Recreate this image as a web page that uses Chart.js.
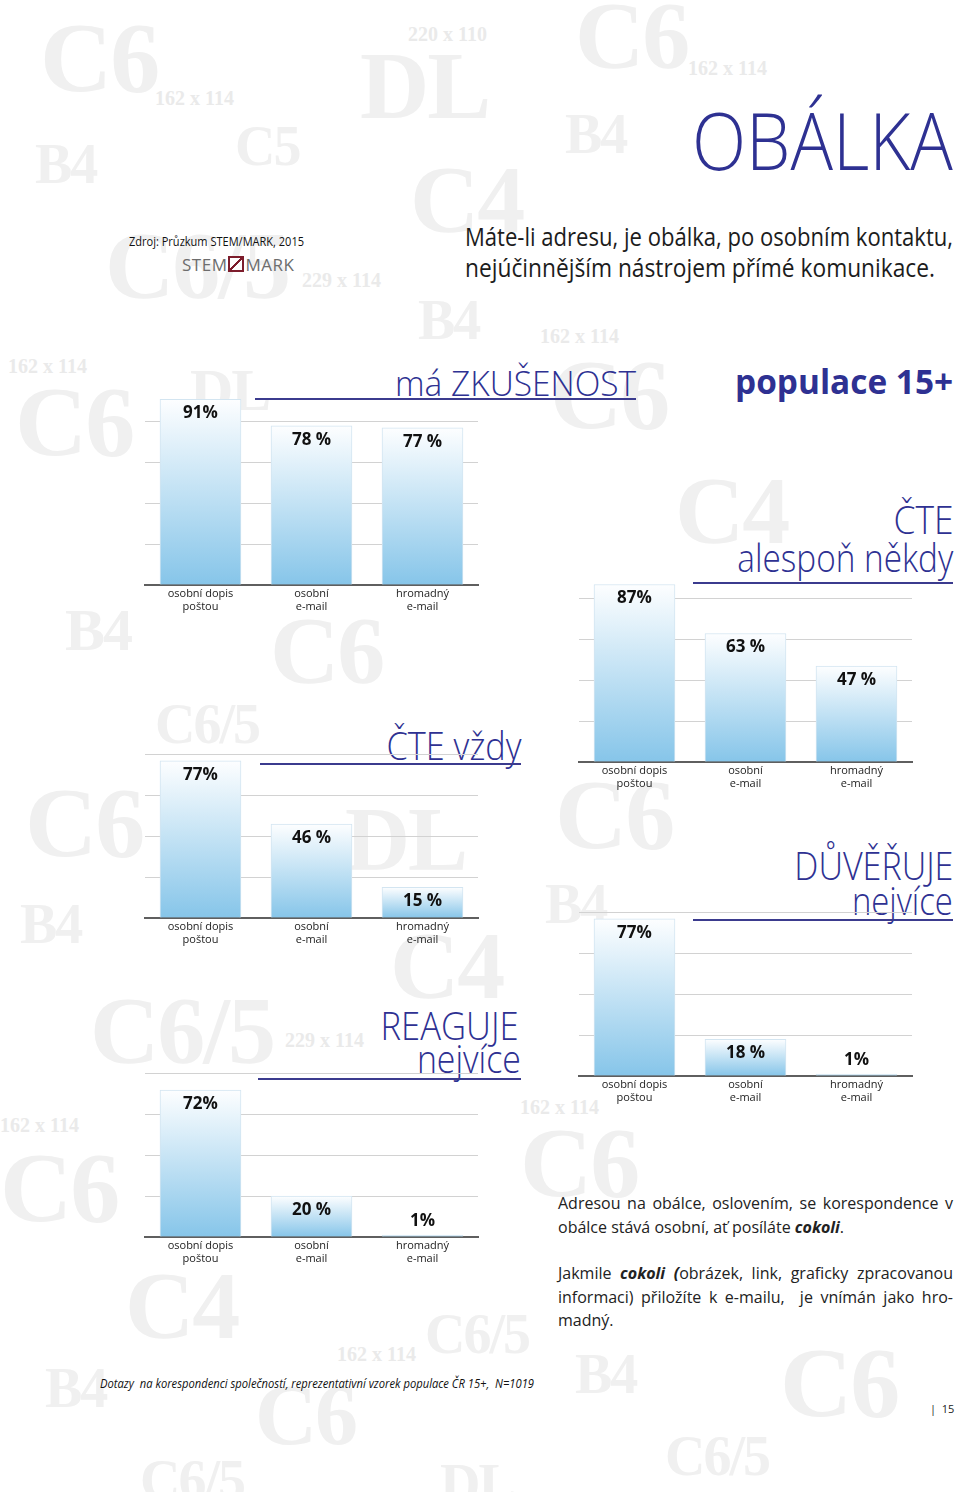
<!DOCTYPE html>
<html lang="cs">
<head>
<meta charset="UTF-8">
<title>Obálka – STEM/MARK 2015</title>
<script src="https://cdn.jsdelivr.net/npm/chart.js"></script>
<style>
  html, body { margin: 0; padding: 0; background: #fff; }
  #page { position: relative; width: 960px; height: 1492px; overflow: hidden; background: #fff; font-family: "Open Sans", "Noto Sans", sans-serif; }
  .wm { position: absolute; font-family: "Liberation Serif", "DejaVu Serif", serif; font-weight: bold; color: #f0f0f0; white-space: nowrap; line-height: 1; letter-spacing: -2px; }
  .wm.s { font-size: 20px; color: #eaeaea; letter-spacing: 0; }
  .t { position: absolute; white-space: nowrap; line-height: 1; }
  .title { color: #2e3192; font-weight: 300; }
  .rule { position: absolute; height: 1.6px; background: #3b3b8e; }
  canvas.chart { position: absolute; }
  .para { position: absolute; left: 558px; width: 395px; font-size: 16px; line-height: 1; color: #222; }
  .para div { position: absolute; left: 0; width: 395px; white-space: nowrap; }
  .para .j { text-align: justify; text-align-last: justify; white-space: normal; }
</style>
</head>
<body>
<div id="page">
  <!-- faint envelope-size watermark -->
  <div class="wm" style="left:40px;top:8px;font-size:100px">C6</div>
  <div class="wm s" style="left:155px;top:88px">162 x 114</div>
  <div class="wm" style="left:35px;top:136px;font-size:56px">B4</div>
  <div class="wm" style="left:235px;top:118px;font-size:56px">C5</div>
  <div class="wm s" style="left:408px;top:24px">220 x 110</div>
  <div class="wm" style="left:360px;top:38px;font-size:96px">DL</div>
  <div class="wm" style="left:575px;top:-12px;font-size:96px">C6</div>
  <div class="wm s" style="left:688px;top:58px">162 x 114</div>
  <div class="wm" style="left:565px;top:106px;font-size:56px">B4</div>
  <div class="wm" style="left:410px;top:152px;font-size:96px">C4</div>
  <div class="wm" style="left:105px;top:218px;font-size:96px">C6/5</div>
  <div class="wm s" style="left:302px;top:270px">229 x 114</div>
  <div class="wm" style="left:418px;top:292px;font-size:56px">B4</div>
  <div class="wm s" style="left:540px;top:326px">162 x 114</div>
  <div class="wm s" style="left:8px;top:356px">162 x 114</div>
  <div class="wm" style="left:15px;top:372px;font-size:100px">C6</div>
  <div class="wm" style="left:190px;top:360px;font-size:60px">DL</div>
  <div class="wm" style="left:550px;top:345px;font-size:100px">C6</div>
  <div class="wm" style="left:675px;top:463px;font-size:96px">C4</div>
  <div class="wm" style="left:65px;top:600px;font-size:60px">B4</div>
  <div class="wm" style="left:270px;top:603px;font-size:96px">C6</div>
  <div class="wm" style="left:155px;top:696px;font-size:56px">C6/5</div>
  <div class="wm" style="left:345px;top:795px;font-size:90px">DL</div>
  <div class="wm" style="left:25px;top:773px;font-size:100px">C6</div>
  <div class="wm" style="left:555px;top:765px;font-size:100px">C6</div>
  <div class="wm" style="left:20px;top:896px;font-size:56px">B4</div>
  <div class="wm" style="left:545px;top:876px;font-size:56px">B4</div>
  <div class="wm" style="left:390px;top:918px;font-size:96px">C4</div>
  <div class="wm" style="left:90px;top:983px;font-size:96px">C6/5</div>
  <div class="wm s" style="left:285px;top:1030px">229 x 114</div>
  <div class="wm s" style="left:520px;top:1097px">162 x 114</div>
  <div class="wm s" style="left:0px;top:1115px">162 x 114</div>
  <div class="wm" style="left:0px;top:1138px;font-size:100px">C6</div>
  <div class="wm" style="left:520px;top:1113px;font-size:100px">C6</div>
  <div class="wm" style="left:125px;top:1258px;font-size:96px">C4</div>
  <div class="wm" style="left:425px;top:1306px;font-size:56px">C6/5</div>
  <div class="wm s" style="left:337px;top:1344px">162 x 114</div>
  <div class="wm" style="left:45px;top:1360px;font-size:56px">B4</div>
  <div class="wm" style="left:255px;top:1372px;font-size:86px">C6</div>
  <div class="wm" style="left:575px;top:1346px;font-size:56px">B4</div>
  <div class="wm" style="left:780px;top:1333px;font-size:100px">C6</div>
  <div class="wm" style="left:140px;top:1452px;font-size:56px">C6/5</div>
  <div class="wm" style="left:440px;top:1456px;font-size:56px">DL</div>
  <div class="wm" style="left:665px;top:1428px;font-size:56px">C6/5</div>

  <!-- header -->
  <div class="t title" data-fit="261" data-right="1" style="right:7px;top:99px;font-size:80px">OBÁLKA</div>
  <div class="t" data-fit="175" style="left:129px;top:236px;font-size:12px;color:#111">Zdroj: Průzkum STEM/MARK, 2015</div>
  <div class="t" style="left:182px;top:256px;font-size:17px;color:#6d6d6d;letter-spacing:0.5px">STEM<span style="display:inline-block;width:12px;height:12px;border:2px solid #7d1d2c;margin:0 1px;vertical-align:-1px;background:linear-gradient(135deg,#fff 0,#fff 44%,#7d1d2c 44%,#7d1d2c 56%,#fff 56%)"></span>MARK</div>
  <div class="t" data-fit="488" style="left:465px;top:224px;font-size:25px;color:#1c1c1c">Máte-li adresu, je obálka, po osobním kontaktu,</div>
  <div class="t" data-fit="470" style="left:465px;top:255px;font-size:25px;color:#1c1c1c">nejúčinnějším nástrojem přímé komunikace.</div>

  <!-- titles + rules -->
  <div class="t title" data-fit="241" data-right="1" style="right:324px;top:365px;font-size:35px">má ZKUŠENOST</div>
  <div class="rule" style="left:255px;width:381px;top:398px"></div>
  <div class="t" data-fit="218" data-right="1" style="right:7px;top:364px;font-size:34px;font-weight:700;color:#2e3192">populace 15+</div>

  <div class="t title" data-fit="60" data-right="1" style="right:7px;top:500px;font-size:38px">ČTE</div>
  <div class="t title" data-fit="216" data-right="1" style="right:7px;top:538px;font-size:38px">alespoň někdy</div>
  <div class="rule" style="left:693px;width:260px;top:582px"></div>

  <div class="t title" data-fit="135" data-right="1" style="right:439px;top:726px;font-size:38px">ČTE vždy</div>
  <div class="rule" style="left:260px;width:261px;top:763px"></div>

  <div class="t title" data-fit="159" data-right="1" style="right:7px;top:846px;font-size:38px">DŮVĚŘUJE</div>
  <div class="t title" data-fit="101" data-right="1" style="right:7px;top:881px;font-size:38px">nejvíce</div>
  <div class="rule" style="left:693px;width:260px;top:919px"></div>

  <div class="t title" data-fit="138" data-right="1" style="right:441px;top:1006px;font-size:38px">REAGUJE</div>
  <div class="t title" data-fit="104" data-right="1" style="right:439px;top:1039px;font-size:38px">nejvíce</div>
  <div class="rule" style="left:258px;width:263px;top:1078px"></div>

  <!-- charts -->
  <canvas class="chart" id="chartExperience" width="360" height="250" style="left:135px;top:371px"></canvas>
  <canvas class="chart" id="chartReadSometimes" width="360" height="250" style="left:569px;top:548px"></canvas>
  <canvas class="chart" id="chartReadAlways" width="360" height="250" style="left:135px;top:704px"></canvas>
  <canvas class="chart" id="chartTrust" width="360" height="250" style="left:569px;top:862px"></canvas>
  <canvas class="chart" id="chartRespond" width="360" height="250" style="left:135px;top:1023px"></canvas>

  <!-- commentary -->
  <div class="para" style="top:0">
    <div class="j" style="top:1195px">Adresou na obálce, oslovením, se korespondence v</div>
    <div style="top:1219px">obálce stává osobní, ať posíláte <b><i>cokoli</i></b>.</div>
    <div class="j" style="top:1265px">Jakmile <b><i>cokoli (</i></b>obrázek, link, graficky zpracovanou</div>
    <div class="j" style="top:1289px">informaci) přiložíte k e-mailu, &nbsp;je vnímán jako hro-</div>
    <div style="top:1312px">madný.</div>
  </div>

  <div class="t" data-fit="434" style="left:100px;top:1378px;font-size:12px;font-style:italic;color:#111">Dotazy &nbsp;na korespondenci společností, reprezentativní vzorek populace ČR 15+, &nbsp;N=1019</div>
  <div class="t" style="left:930px;top:1403px;font-size:11px;color:#222">|&nbsp;&nbsp;15</div>
</div>

<script>
// categories shared by all five charts
const channels = [['osobní dopis', 'poštou'], ['osobní', 'e-mail'], ['hromadný', 'e-mail']];

// % of population 15+
const experienceValues    = [91, 78, 77];   // má zkušenost
const readSometimesValues = [87, 63, 47];   // čte alespoň někdy
const readAlwaysValues    = [77, 46, 15];   // čte vždy
const trustValues         = [77, 18, 1];    // důvěřuje nejvíce
const respondValues       = [72, 20, 1];    // reaguje nejvíce

// value labels as printed on the bars
const experienceText    = ['91%', '78 %', '77 %'];
const readSometimesText = ['87%', '63 %', '47 %'];
const readAlwaysText    = ['77%', '46 %', '15 %'];
const trustText         = ['77%', '18 %', '1%'];
const respondText       = ['72%', '20 %', '1%'];

const gridTicks = [20, 40, 60, 80];

// squeeze text blocks to the widths of the printed (condensed) typeface
document.querySelectorAll('[data-fit]').forEach(el => {
    const w = el.getBoundingClientRect().width;
    const s = Number(el.dataset.fit) / w;
    el.style.transformOrigin = el.dataset.right ? 'right top' : 'left top';
    el.style.transform = 'scaleX(' + s + ')';
});

function barFill(ctx) {
    const chart = ctx.chart;
    const y = chart.scales.y;
    if (!chart.chartArea || !y || ctx.type !== 'data') return '#bfe0f3';
    const top = y.getPixelForValue(ctx.raw);
    const base = y.getPixelForValue(0);
    const g = chart.ctx.createLinearGradient(0, top, 0, base);
    g.addColorStop(0, '#fdfeff');
    g.addColorStop(1, '#86c5e9');
    return g;
}

const valueLabels = {
    id: 'valueLabels',
    afterDatasetsDraw(chart, args, opts) {
        const ctx = chart.ctx;
        const meta = chart.getDatasetMeta(0);
        ctx.save();
        ctx.font = 'bold 17px "Open Sans", "Noto Sans", sans-serif';
        ctx.fillStyle = '#111';
        ctx.textAlign = 'center';
        ctx.textBaseline = 'middle';
        meta.data.forEach((bar, i) => {
            const h = bar.base - bar.y;
            const ty = h > 26 ? bar.y + 14 : bar.y - 14;
            ctx.fillText(opts.texts[i], bar.x, ty);
        });
        ctx.restore();
    }
};

function makeChart(id, values, texts) {
    return new Chart(document.getElementById(id), {
        type: 'bar',
        data: {
            labels: channels,
            datasets: [{
                data: values,
                backgroundColor: barFill,
                borderColor: '#d3e5f1',
                borderWidth: 1,
                barThickness: 81
            }]
        },
        options: {
            responsive: false,
            animation: false,
            layout: { padding: { top: 10, left: 10, right: 17, bottom: 0 } },
            plugins: {
                legend: { display: false },
                tooltip: { enabled: false },
                valueLabels: { texts: texts }
            },
            scales: {
                x: {
                    grid: { display: false, drawTicks: false },
                    border: { display: true, color: '#5f5f5f', width: 2 },
                    ticks: {
                        color: '#222',
                        padding: 3,
                        font: { family: '"Open Sans", "Noto Sans", sans-serif', size: 11, lineHeight: 1.15 }
                    },
                    afterFit: s => { s.height = 36; }
                },
                y: {
                    min: 0,
                    max: 100,
                    afterBuildTicks: s => { s.ticks = [0].concat(gridTicks, [100]).map(v => ({ value: v })); },
                    grid: {
                        drawTicks: false,
                        color: c => gridTicks.includes(c.tick.value) ? '#d2d2d2' : 'rgba(0,0,0,0)',
                        lineWidth: 1
                    },
                    border: { display: false },
                    ticks: { display: false },
                    afterFit: s => { s.width = 0; }
                }
            }
        },
        plugins: [valueLabels]
    });
}

makeChart('chartExperience', experienceValues, experienceText);
makeChart('chartReadSometimes', readSometimesValues, readSometimesText);
makeChart('chartReadAlways', readAlwaysValues, readAlwaysText);
makeChart('chartTrust', trustValues, trustText);
makeChart('chartRespond', respondValues, respondText);
</script>
</body>
</html>
